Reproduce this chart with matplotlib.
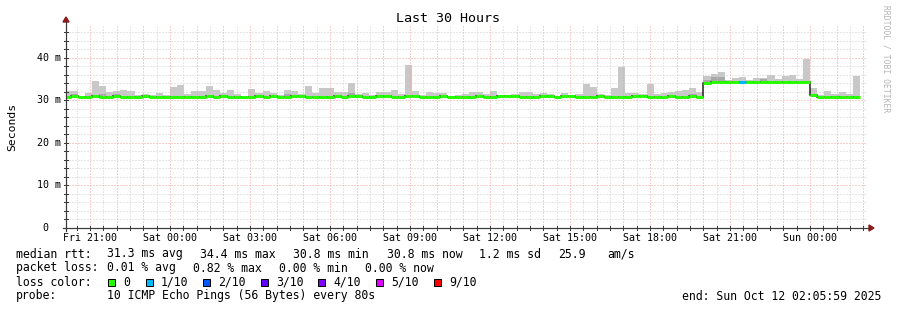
import matplotlib
matplotlib.use('Agg')
import matplotlib.pyplot as plt
from matplotlib.transforms import blended_transform_factory
from matplotlib.patches import Rectangle, Polygon
from matplotlib.lines import Line2D

W, H, DPI = 897, 310, 100

# ---------------- data ----------------
title = "Last 30 Hours"
y_label = "Seconds"
y_tick_values = [0, 10, 20, 30, 40]
y_tick_labels = ["0", "10 m", "20 m", "30 m", "40 m"]
x_tick_labels = ["Fri 21:00", "Sat 00:00", "Sat 03:00", "Sat 06:00", "Sat 09:00",
                 "Sat 12:00", "Sat 15:00", "Sat 18:00", "Sat 21:00", "Sun 00:00"]
first_label_hour = 0.9003      # Fri 21:00 relative to window start (Fri 20:05:59)
label_step_hours = 3
window_hours = 30
y_top_ms = 47.5
bin_hours = 16 / 60.0          # consolidation step (16 min)
first_bin_start_hour = -0.094

median_ms = [
    30.8, 31.1, 30.8, 30.8, 31.1, 30.8, 30.8, 31.1, 30.8, 30.8,
    30.8, 31.1, 30.8, 30.8, 30.8, 30.8, 30.8, 30.8, 30.8, 30.8,
    31.1, 30.8, 31.1, 30.8, 30.8, 30.8, 30.8, 31.1, 30.8, 31.1,
    30.8, 30.8, 31.1, 31.1, 30.8, 30.8, 30.8, 30.8, 31.1, 30.8,
    31.1, 31.1, 30.8, 30.8, 31.1, 31.1, 30.8, 30.8, 31.1, 31.1,
    30.8, 30.8, 30.8, 31.1, 30.8, 30.8, 30.8, 30.8, 31.1, 30.8,
    30.8, 31.1, 31.1, 31.1, 30.8, 30.8, 30.8, 31.1, 31.1, 30.8,
    31.1, 31.1, 30.8, 30.8, 30.8, 31.1, 30.8, 30.8, 30.8, 30.8,
    31.1, 31.1, 30.8, 30.8, 30.8, 31.1, 30.8, 30.8, 31.1, 30.8,
    34.0, 34.4, 34.4, 34.4, 34.4, 34.4, 34.4, 34.4, 34.4, 34.4,
    34.4, 34.4, 34.4, 34.4, 34.4, 31.3, 30.8, 30.8, 30.8, 30.8,
    30.8, 30.8,
]

smoke_max_ms = [
    32.2, 32.2, 31.0, 31.8, 34.6, 33.4, 32.0, 32.2, 32.4, 32.2,
    31.2, 31.4, 31.2, 31.8, 31.2, 33.1, 33.6, 31.4, 32.2, 32.2,
    33.4, 32.4, 31.8, 32.4, 31.4, 31.0, 32.6, 31.8, 32.2, 31.8,
    31.2, 32.4, 32.2, 31.4, 33.4, 31.8, 32.9, 32.9, 32.0, 32.0,
    34.1, 31.4, 31.8, 31.2, 32.0, 32.0, 32.4, 31.4, 38.4, 32.2,
    31.2, 32.0, 31.8, 31.8, 31.0, 31.2, 31.4, 32.0, 32.0, 31.4,
    32.2, 31.2, 31.2, 31.4, 32.0, 32.0, 31.4, 31.8, 31.4, 31.0,
    31.8, 31.0, 31.4, 33.8, 33.1, 31.4, 31.2, 32.9, 37.8, 31.8,
    31.8, 31.4, 33.8, 31.4, 31.8, 32.0, 32.2, 32.4, 32.9, 32.0,
    35.8, 36.2, 36.8, 34.7, 35.3, 35.5, 34.8, 35.3, 35.3, 36.0,
    35.0, 35.8, 36.0, 35.0, 39.7, 32.9, 31.2, 32.2, 31.4, 31.9,
    31.4, 35.8,
]

dark_bins = [1, 5, 7, 31, 40, 88, 90, 91, 92, 98]
dark_top_ms = [31.4, 31.6, 31.4, 31.6, 31.7, 31.6, 34.7, 35.4, 35.4, 35.0]

loss_tenths = [0] * 95 + [1] + [0] * 16

loss_levels = ["0", "1/10", "2/10", "3/10", "4/10", "5/10", "9/10"]
loss_level_tenths = [0, 1, 2, 3, 4, 5, 9]
loss_colors = ["#26ff00", "#00b8ff", "#0059ff", "#5e00ff", "#7e00ff", "#dd00ff", "#ff0000"]

rtt_stats = ["31.3 ms avg", "34.4 ms max", "30.8 ms min", "30.8 ms now", "1.2 ms sd", "25.9", "am/s"]
loss_stats = ["0.01 % avg", "0.82 % max", "0.00 % min", "0.00 % now"]
probe_text = "10 ICMP Echo Pings (56 Bytes) every 80s"
end_text = "end: Sun Oct 12 02:05:59 2025"
watermark = "RRDTOOL / TOBI OETIKER"

# ---------------- figure ----------------
MONO = "DejaVu Sans Mono"
plt.rcParams['font.family'] = MONO

fig = plt.figure(figsize=(W / DPI, H / DPI), dpi=DPI)
fig.patch.set_facecolor("white")

L, R, T, B = 66, 866, 26, 228
ax = fig.add_axes([L / W, 1 - B / H, (R - L) / W, (B - T) / H])
ax.set_xlim(0, window_hours)
ax.set_ylim(0, y_top_ms)
for s in ax.spines.values():
    s.set_visible(False)
ax.set_xticks([])
ax.set_yticks([])

def px(v):
    return v * 72.0 / DPI

# grid
minor_col = "#cfcfcf"
major_col = "#f2a0a0"
dots = (0, (1, 2))
y = 2
while y < y_top_ms:
    if y % 10 != 0:
        ax.axhline(y, color=minor_col, lw=px(1), ls=dots, zorder=1.5)
    y += 2
for yv in y_tick_values[1:]:
    ax.axhline(yv, color=major_col, lw=px(1), ls=dots, zorder=1.6)
hh = first_label_hour - 0.5
while hh < window_hours:
    if hh > 0:
        ax.axvline(hh, color=minor_col, lw=px(1), ls=dots, zorder=1.5)
    hh += 1
hh = first_label_hour
while hh < window_hours:
    ax.axvline(hh, color=major_col, lw=px(1), ls=dots, zorder=1.6)
    hh += 1

# smoke
n = len(median_ms)
edges = [first_bin_start_hour + i * bin_hours for i in range(n + 1)]
ax.stairs(smoke_max_ms, edges, baseline=median_ms, fill=True, color="#c8c8c8",
          lw=0, zorder=1)
for b, top in zip(dark_bins, dark_top_ms):
    ax.bar(edges[b], top - median_ms[b], width=bin_hours, bottom=median_ms[b],
           align="edge", color="#a8a8a8", lw=0, zorder=1.2)

# median line
ax.stairs(median_ms, edges, baseline=None, color="#202020", lw=px(1.5), zorder=3)
col_of = dict(zip(loss_level_tenths, loss_colors))
ax.hlines(median_ms, edges[:-1], edges[1:], colors=[col_of[l] for l in loss_tenths],
          lw=px(3), zorder=4, capstyle="butt")

# axes lines + arrows (pixel space)
def fx(p):
    return p / W

def fy(p):
    return 1 - p / H

axis_col = "#3a3a3a"
arrow_col = "#8b1a1a"
fig.add_artist(Line2D([fx(L), fx(L)], [fy(B + 3), fy(T - 4)], color=axis_col, lw=px(1.2)))
fig.add_artist(Line2D([fx(L - 3), fx(R + 3)], [fy(B), fy(B)], color=axis_col, lw=px(1.2)))
fig.add_artist(Polygon([[fx(L - 3), fy(T - 4)], [fx(L + 3), fy(T - 4)], [fx(L), fy(T - 9)]],
                       closed=True, color=arrow_col, transform=fig.transFigure))
fig.add_artist(Polygon([[fx(R + 3), fy(B - 3)], [fx(R + 3), fy(B + 3)], [fx(R + 8), fy(B)]],
                       closed=True, color=arrow_col, transform=fig.transFigure))

# small axis tick marks
ty = blended_transform_factory(fig.transFigure, ax.transData)
y = 2
while y < y_top_ms:
    ax.add_line(Line2D([fx(L - 2), fx(L + 2)], [y, y], color=axis_col, lw=px(1),
                       transform=ty, clip_on=False))
    y += 2
tx = blended_transform_factory(ax.transData, fig.transFigure)
hh = first_label_hour - 0.5
while hh < window_hours:
    if hh > 0:
        ax.add_line(Line2D([hh, hh], [fy(B - 2), fy(B + 2)], color=axis_col, lw=px(1),
                           transform=tx, clip_on=False))
    hh += 0.5

# tick labels
for yv, lab in zip(y_tick_values, y_tick_labels):
    if lab == "0":
        ax.text(fx(48), yv, lab, transform=ty, ha="right", va="center", fontsize=7.2)
    else:
        ax.text(fx(61), yv, lab, transform=ty, ha="right", va="center", fontsize=7.2)
for i, lab in enumerate(x_tick_labels):
    ax.text(first_label_hour + i * label_step_hours, fy(238), lab, transform=tx,
            ha="center", va="center", fontsize=7.2)

# title / y-label / watermark
fig.text(fx(448), fy(19), title, ha="center", va="center", fontsize=9.6)
fig.text(fx(12), fy(127), y_label, ha="center", va="center", rotation=90, fontsize=8.2)
fig.text(fx(886), fy(5), watermark, ha="center", va="top", rotation=270,
         fontsize=5.8, color="#b4b4b4")

# legend rows
FS = 8.3
rows_y = [254, 268, 282, 296]
fig.text(fx(16), fy(rows_y[0]), "median rtt:", ha="left", va="center", fontsize=FS)
for xp, s in zip([107, 200, 293, 387, 479, 558, 607], rtt_stats):
    fig.text(fx(xp), fy(rows_y[0]), s, ha="left", va="center", fontsize=FS)
fig.text(fx(16), fy(rows_y[1]), "packet loss:", ha="left", va="center", fontsize=FS)
for xp, s in zip([107, 193, 279, 365], loss_stats):
    fig.text(fx(xp), fy(rows_y[1]), s, ha="left", va="center", fontsize=FS)
fig.text(fx(16), fy(rows_y[2]), "loss color:", ha="left", va="center", fontsize=FS)
for xp, lab, c in zip([108, 146, 203, 261, 318, 376, 434], loss_levels, loss_colors):
    fig.add_artist(Rectangle((fx(xp), fy(rows_y[2] + 4)), 7 / W, 7 / H, transform=fig.transFigure,
                             facecolor=c, edgecolor="black", lw=px(1)))
    fig.text(fx(xp + 15), fy(rows_y[2]), lab, ha="left", va="center", fontsize=FS)
fig.text(fx(16), fy(rows_y[3]), "probe:", ha="left", va="center", fontsize=FS)
fig.text(fx(107), fy(rows_y[3]), probe_text, ha="left", va="center", fontsize=FS)
fig.text(fx(881), fy(rows_y[3]), end_text, ha="right", va="center", fontsize=FS)

fig.savefig("out.png", dpi=DPI, facecolor="white")
